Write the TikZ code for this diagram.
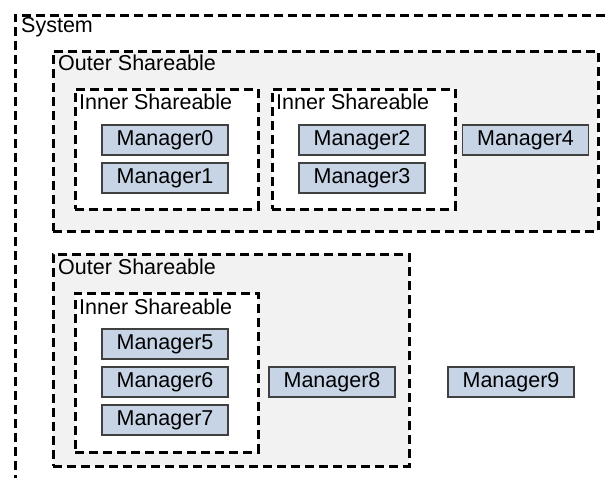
\documentclass[tikz,border=0pt]{standalone}
\usepackage{fontspec}
\setmainfont{Liberation Sans}
\definecolor{mgrblue}{HTML}{C6D4E6}
\definecolor{zonegray}{HTML}{F2F2F2}
\newcommand{\diagfont}{\fontsize{21.5}{25}\selectfont}
\tikzset{
  mgr/.style={draw=black!75, fill=mgrblue, line width=1.3pt, rectangle,
    minimum width=126pt, minimum height=30pt, inner sep=0pt, font=\diagfont},
  zone/.style={draw=black, dash pattern=on 9pt off 5pt, line width=2.6pt,
    rectangle, inner sep=0pt, anchor=north west},
  outerzone/.style={zone, fill=zonegray},
  innerzone/.style={zone, fill=white},
  zonelabel/.style={anchor=base west, inner sep=0pt, font=\diagfont},
}
\begin{document}
\begin{tikzpicture}[x=1pt, y=-1pt]
  \path[use as bounding box, clip] (0,0) rectangle (610,478);
  \fill[white] (0,0) rectangle (610,478);

  % System frame (runs off the right and bottom edges)
  \node[zone, minimum width=640pt, minimum height=500pt] (sys) at (14,14) {};
  \node[zonelabel] (syslbl) at (21,33) {System};

  % First outer shareable domain
  \node[outerzone, minimum width=545pt, minimum height=180pt] (outerA) at (52,50) {};
  \node[zonelabel] (outerAlbl) at (58,71) {Outer Shareable};

  \node[innerzone, minimum width=183pt, minimum height=120pt] (innerA) at (74,88) {};
  \node[zonelabel] (innerAlbl) at (79,110) {Inner Shareable};
  \node[innerzone, minimum width=183pt, minimum height=120pt] (innerB) at (271,88) {};
  \node[zonelabel] (innerBlbl) at (276,110) {Inner Shareable};

  \node[mgr] (m0) at (165,140) {Manager0};
  \node[mgr] (m1) at (165,178) {Manager1};
  \node[mgr] (m2) at (362,140) {Manager2};
  \node[mgr] (m3) at (362,178) {Manager3};
  \node[mgr] (m4) at (525.5,140) {Manager4};

  % Second outer shareable domain
  \node[outerzone, minimum width=356pt, minimum height=212pt] (outerB) at (52,253) {};
  \node[zonelabel] (outerBlbl) at (58,274) {Outer Shareable};

  \node[innerzone, minimum width=183pt, minimum height=159pt] (innerC) at (74,292) {};
  \node[zonelabel] (innerClbl) at (79,314) {Inner Shareable};

  \node[mgr] (m5) at (165,344) {Manager5};
  \node[mgr] (m6) at (165,382) {Manager6};
  \node[mgr] (m7) at (165,420) {Manager7};
  \node[mgr] (m8) at (332,382) {Manager8};

  % Manager outside any outer domain
  \node[mgr] (m9) at (511,382) {Manager9};
\end{tikzpicture}
\end{document}
